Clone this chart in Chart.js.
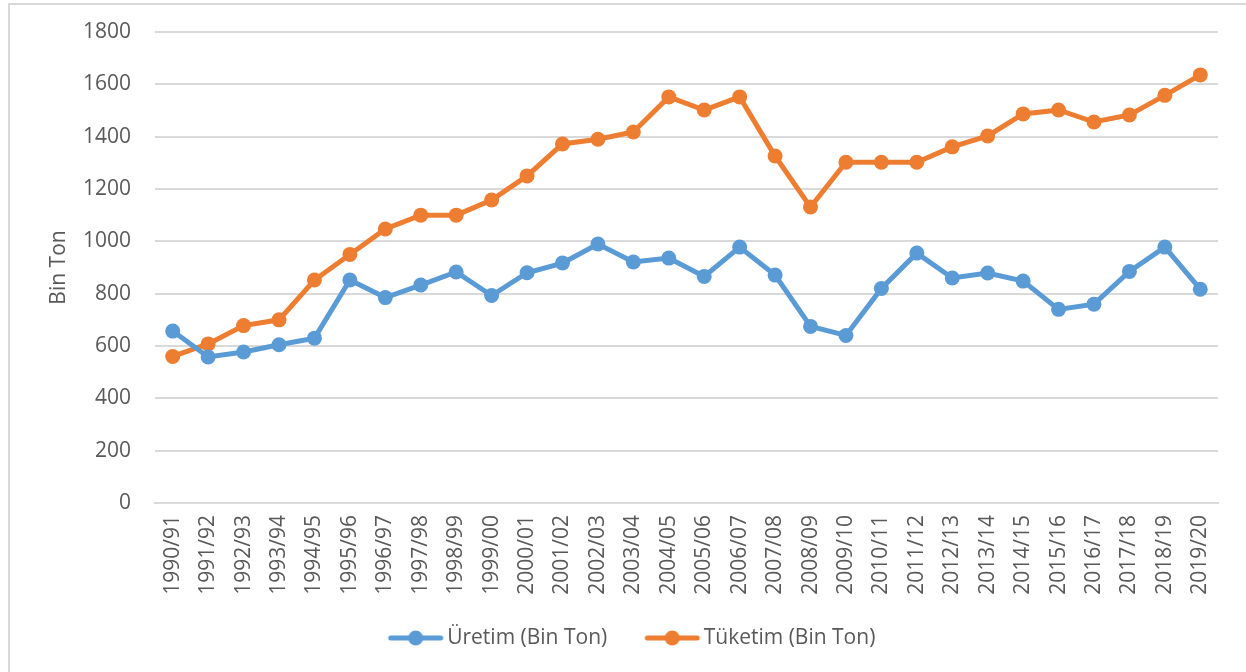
<!DOCTYPE html>
<html>
<head>
<meta charset="utf-8">
<title>Üretim ve Tüketim</title>
<script src="https://cdn.jsdelivr.net/npm/chart.js"></script>
<style>
  html, body { margin: 0; padding: 0; background: #fff; }
  #wrap { position: relative; width: 1246px; height: 672px; overflow: hidden; }
  #frame { position: absolute; left: 8px; top: 3px; width: 1300px; height: 700px;
           border-left: 2px solid #d9d9d9; border-top: 2px solid #d9d9d9; }
  #chart { position: absolute; left: 0; top: 0; }
</style>
</head>
<body>
<div id="wrap">
  <div id="frame"></div>
  <canvas id="chart" width="1246" height="672"></canvas>
</div>
<script>
  const seasons = ["1990/91", "1991/92", "1992/93", "1993/94", "1994/95", "1995/96", "1996/97",
    "1997/98", "1998/99", "1999/00", "2000/01", "2001/02", "2002/03", "2003/04", "2004/05",
    "2005/06", "2006/07", "2007/08", "2008/09", "2009/10", "2010/11", "2011/12", "2012/13",
    "2013/14", "2014/15", "2015/16", "2016/17", "2017/18", "2018/19", "2019/20"];

  const uretim = [657, 558, 577, 605, 630, 852, 785, 833, 883, 793, 880, 917, 990, 921, 936,
    866, 978, 871, 675, 640, 820, 955, 860, 879, 848, 740, 760, 885, 978, 817];

  const tuketim = [560, 608, 678, 700, 852, 950, 1047, 1100, 1100, 1158, 1250, 1372, 1390, 1418, 1552,
    1502, 1552, 1326, 1131, 1302, 1302, 1302, 1361, 1403, 1487, 1502, 1456, 1483, 1558, 1636];

  const yTicks = [0, 200, 400, 600, 800, 1000, 1200, 1400, 1600, 1800];

  const BLUE = "#5B9BD5";
  const ORANGE = "#ED7D31";
  const TEXT = "#595959";
  const FONT = "'Open Sans', sans-serif";
  const FS = 21;

  // legend marker: short line with a dot, drawn off-centre so it sits right before the text
  function marker(color) {
    const c = document.createElement("canvas");
    c.width = 120; c.height = 18;
    const g = c.getContext("2d");
    g.strokeStyle = color;
    g.lineWidth = 5;
    g.lineCap = "round";
    g.beginPath(); g.moveTo(52, 9); g.lineTo(102, 9); g.stroke();
    g.fillStyle = color;
    g.beginPath(); g.arc(77, 9, 7.5, 0, Math.PI * 2); g.fill();
    return c;
  }

  const series = (label, data, color) => ({
    label, data,
    borderColor: color,
    backgroundColor: color,
    borderWidth: 5,
    pointRadius: 7.5,
    pointHoverRadius: 7.5,
    pointBorderWidth: 0,
    pointBackgroundColor: color,
    pointStyle: "circle",
    tension: 0,
  });

  new Chart(document.getElementById("chart").getContext("2d"), {
    type: "line",
    data: {
      labels: seasons,
      datasets: [
        series("Üretim (Bin Ton)", uretim, BLUE),
        series("Tüketim (Bin Ton)", tuketim, ORANGE),
      ],
    },
    options: {
      responsive: false,
      animation: false,
      layout: { padding: { top: 32, left: 18, right: 28, bottom: 13.5 } },
      plugins: {
        tooltip: { enabled: false },
        legend: {
          position: "bottom",
          labels: {
            usePointStyle: true,
            pointStyleWidth: 76,
            padding: 10,
            color: TEXT,
            font: { family: FONT, size: FS },
            generateLabels: (chart) => chart.data.datasets.map((ds, i) => ({
              text: ds.label,
              pointStyle: marker(ds.borderColor),
              fillStyle: ds.borderColor,
              strokeStyle: ds.borderColor,
              lineWidth: 0,
              fontColor: TEXT,
              datasetIndex: i,
              hidden: false,
            })),
          },
        },
      },
      scales: {
        x: {
          offset: true,
          grid: { display: false, drawTicks: false },
          border: { display: true, color: "#d9d9d9", width: 2 },
          ticks: {
            color: TEXT,
            font: { family: FONT, size: FS },
            minRotation: 90,
            maxRotation: 90,
            autoSkip: false,
            padding: 12,
          },
          afterFit: (s) => { s.height = 114.5; },
        },
        y: {
          min: 0,
          max: 1800,
          afterBuildTicks: (s) => { s.ticks = yTicks.map(v => ({ value: v })); },
          grid: { color: "#d9d9d9", lineWidth: 2, drawTicks: false },
          border: { display: false },
          ticks: {
            color: TEXT,
            font: { family: FONT, size: FS, lineHeight: 0.6 },
            padding: 24,
            autoSkip: false,
            callback: (v) => String(v),
          },
          title: {
            display: true,
            text: "Bin Ton",
            color: TEXT,
            font: { family: FONT, size: FS },
            padding: { top: 28, bottom: 0 },
          },
          afterFit: (s) => { s.width = 137; },
        },
      },
    },
  });
</script>
</body>
</html>
